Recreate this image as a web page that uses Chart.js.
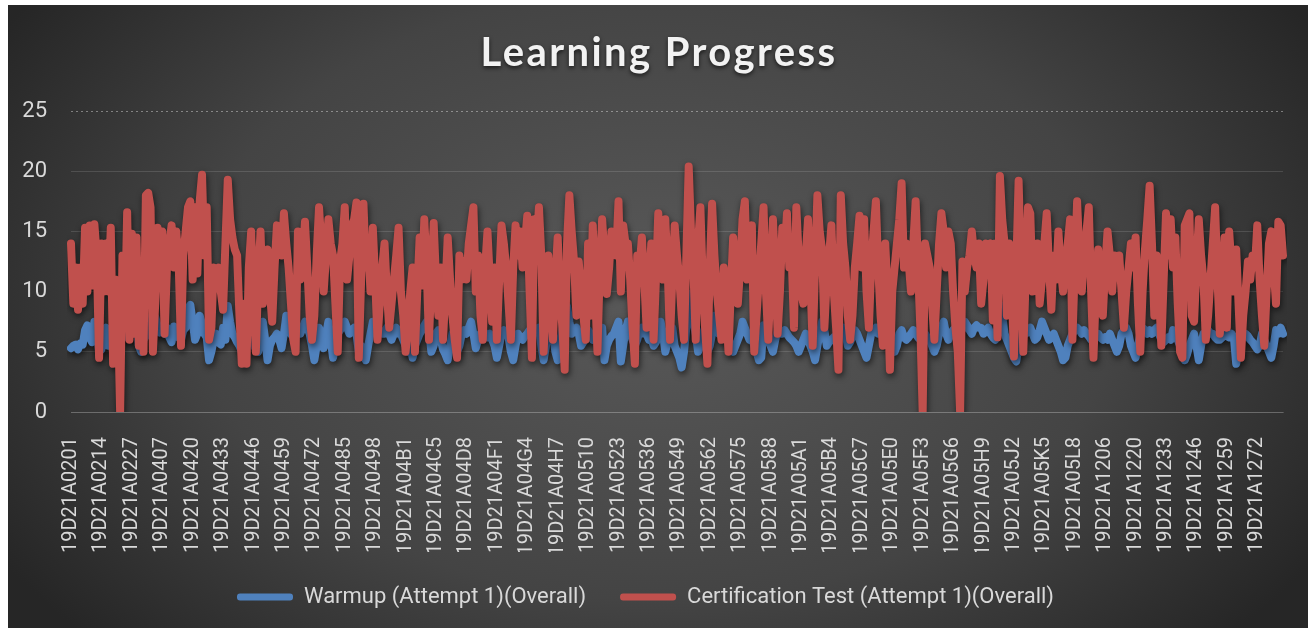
<!DOCTYPE html>
<html>
<head>
<meta charset="utf-8">
<title>Learning Progress</title>
<script src="https://cdn.jsdelivr.net/npm/chart.js@4.4.1/dist/chart.umd.min.js"></script>
<style>
  html, body { margin: 0; padding: 0; background: #fff; }
  #wrap { position: absolute; left: 8px; top: 5px; width: 1300px; height: 623px; }
</style>
</head>
<body>
<div id="wrap"><canvas id="progress"></canvas></div>
<script>
// ── TEXT ───────────────────────────────────────────────────────
const CHART_TITLE = 'Learning Progress';
const SERIES_NAMES = ['Warmup (Attempt 1)(Overall)', 'Certification Test (Attempt 1)(Overall)'];

// ── CATEGORIES: roll numbers, one per student ──────────────────
const ROLL_PREFIX = '19D21A';
// [branch, first code, last code, codes not present]
const rollBlocks = [
  ['02', '01', '33', []],
  ['04', '01', 'I0', ['B5']],
  ['05', '01', 'M5', []],
  ['12', '01', '83', ['12']]
];
const X_TICK_EVERY = 13;          // every 13th roll number is labelled
const yTicks = [0, 5, 10, 15, 20, 25];

// ── SERIES (one row per labelled tick) ─────────────────────────
const warmupScores = [
  5.3, 5.5, 5.6, 5.2, 5.7, 5.6, 6.8, 7.2, 6.2, 5.8, 7.5, 7.2, 5,
  5.2, 6.5, 7, 5.5, 6, 5, 6.8, 7, 6.2, 6.5, 6.8, 6.2, 6.5,
  7, 6.5, 7.2, 5.5, 5, 6, 6.3, 6.8, 7.8, 6.5, 7.9, 7.2, 6.6,
  6.8, 6.5, 7, 6.2, 5.8, 7.1, 6.5, 6.2, 6, 6.8, 7, 8.6, 8.9,
  7.5, 6, 6.5, 8, 7.3, 6.5, 6.2, 4.3, 5, 6, 6.5, 5.8, 5.6,
  7, 6, 8.8, 7.5, 6.5, 6.2, 5.8, 5.5, 5, 5.5, 6, 6.3, 6,
  5.6, 5.2, 5, 6.5, 7.5, 6, 4.3, 5.5, 6, 6.2, 6.5, 6, 5.3,
  6.5, 8, 7.2, 6.5, 6.2, 6.8, 7, 6.5, 7, 7.5, 7, 6.5, 5.5,
  4.3, 5.5, 7, 6.2, 5.3, 6.5, 7.5, 6, 4.5, 5.5, 6.5, 6.8, 7.2,
  7.5, 7, 6.5, 6.8, 7, 6.5, 5, 5.5, 4.8, 4.3, 5.5, 6.5, 7.5,
  7.2, 6.8, 6.8, 6.5, 6.5, 7, 6.5, 6, 6.5, 7, 6.5, 6.5, 6,
  5.5, 5, 5.5, 4.5, 5.5, 6, 6.5, 6.8, 7.2, 7.5, 7, 5, 5.5,
  6.5, 6.8, 6, 5.2, 4.8, 4.3, 5.5, 6.5, 6, 5, 5.5, 6.5, 6.8,
  6.5, 7, 7.5, 6.5, 5.3, 6, 6.5, 6.8, 6.5, 6.2, 6.5, 6, 5.5,
  4.5, 5.5, 6.5, 6.8, 6.5, 6.2, 5, 4.3, 5.5, 6.5, 6.2, 6, 6.3,
  6.5, 6.8, 6.5, 7, 6.8, 7, 5.5, 4.3, 5.5, 6.5, 6.8, 6.5, 5,
  4.3, 5.5, 7, 8, 8.8, 7.5, 6.5, 6.8, 7, 6.5, 5.5, 5.8, 6.5,
  6.8, 6.5, 6, 6.2, 6.5, 6, 7, 4.3, 5.5, 6, 6.3, 6.5, 7,
  7.5, 4.2, 5.5, 6.8, 7.5, 6.8, 6, 5.5, 6, 6.8, 7, 6.5, 6.5,
  6, 6.2, 5.5, 5.8, 6.5, 7.5, 6.5, 5, 5.8, 6.5, 7, 5.5, 5,
  4.5, 3.7, 5, 7, 9.8, 8, 7.5, 6.5, 5, 5.5, 6.5, 7, 5,
  5.5, 6.5, 8, 7.5, 6.5, 6.8, 7, 6.5, 6, 5.5, 5, 5.5, 6,
  6.5, 7.5, 7, 6.5, 6, 6.2, 5.5, 5, 4.3, 4.5, 7.2, 6.5, 6,
  5.5, 5, 6, 6.8, 6.5, 6.5, 6.8, 6.5, 6.2, 6, 5.8, 5.5, 5,
  5.5, 6, 6.5, 6, 5.5, 5, 4.3, 5.5, 6.5, 7.5, 6.8, 5.5, 5.8,
  6, 6.2, 6, 6.5, 6.8, 7, 6.5, 5.5, 5.8, 6.3, 6.8, 6.5, 6,
  5.5, 5, 4.5, 5.5, 6.5, 6.8, 7, 6.5, 7, 7.5, 7, 6, 5.8,
  5.5, 5, 5.5, 6.5, 6.8, 6.2, 6, 6.2, 6.5, 6.8, 6.5, 6.2, 6,
  6.2, 6.5, 6.2, 6, 5.5, 5, 5.5, 6.5, 7, 7.5, 6.5, 6, 6.5,
  6.8, 7, 6.5, 6.5, 7, 7.5, 7.2, 6.8, 6.5, 7, 7.2, 7, 7,
  6.5, 6.8, 7, 6.5, 6.2, 6, 7, 8.9, 8, 6.5, 6, 5.5, 5,
  4.5, 4.2, 5.5, 7, 6.8, 6.5, 6.8, 7, 6.5, 6, 6.2, 6.8, 7.5,
  7, 6.5, 6, 6.3, 6.5, 6, 5.5, 5, 4.3, 4.5, 5.5, 6, 6.5,
  6.8, 7, 6.8, 6.5, 6.8, 6.5, 6.3, 6, 6.3, 6.5, 6.5, 6.2, 6,
  6.2, 6, 6.5, 6, 5.5, 5, 5.5, 6.5, 6.8, 7, 6.5, 5.5, 5,
  4.5, 5.5, 6.5, 7, 6.8, 6.5, 6.8, 6.5, 6.8, 7, 6.5, 6, 5.8,
  6, 6.2, 6, 6.8, 6.5, 6, 5.5, 5, 4.3, 4.8, 5.5, 6, 6.5,
  5.5, 4.3, 5.5, 6.5, 6.5, 6.8, 6.5, 6.5, 6.2, 6, 6, 6.2, 6.5,
  6.3, 6.2, 6.5, 6.2, 4, 5, 6, 6.2, 6.5, 6.3, 6, 5.8, 5.5,
  5.2, 5.5, 6.5, 6, 5.5, 5, 4.5, 5.5, 6.8, 6.5, 7, 6.5
];

const certScores = [
  14, 9, 12, 8.5, 12, 9, 15.3, 10, 15.5, 10.5, 15.6, 13, 4.5,
  14, 10, 14, 10, 15.3, 4, 11, 9, 0, 13, 7, 16.6, 6,
  14.8, 6.5, 14.5, 5.5, 11, 5, 18, 18.2, 17, 5, 9, 15.3, 13,
  15, 6.5, 12, 14, 15.5, 12, 15, 12.5, 5.5, 13, 15, 17, 17.5,
  11, 17, 11.5, 17.5, 19.7, 13, 17, 6, 7, 12, 11.5, 12, 10,
  8.5, 14, 19.3, 16, 14.5, 13.5, 13, 8, 4, 9, 4, 12, 15,
  10, 5, 11, 15, 9, 12, 13.5, 10, 7.5, 12, 15.5, 14, 13,
  16.5, 14, 12, 9, 6, 5, 15, 11, 13, 15.8, 12, 8, 6,
  8, 13, 17, 14, 10, 13, 16, 14, 13, 9, 5, 12.5, 14,
  17, 11, 13, 15.5, 16, 17.4, 4.5, 11, 17.3, 12, 14, 10, 15.3,
  11, 6, 9, 12, 14, 10, 7, 9, 11, 13, 15.3, 10, 8,
  5, 7, 10, 12, 5, 10, 14.5, 10.5, 16, 12, 6, 11, 15.7,
  11, 8, 12, 6, 10, 14.5, 11, 8, 6, 4.5, 13, 11, 12.5,
  11, 14, 15.5, 17, 10, 13, 8, 6, 12, 15, 11, 7.5, 12,
  6, 11, 15.5, 14, 12, 9, 6, 12, 15.5, 13, 15, 12, 14,
  16.3, 10, 4.5, 16, 14, 17, 13, 5, 9, 13, 10, 6, 11,
  14.5, 10, 7, 3.5, 14, 18, 15, 12.5, 8, 12.5, 10, 8, 6,
  14, 8, 15.5, 10, 5, 12, 16, 13, 9.8, 12, 15, 13.5, 13,
  17.5, 10, 15.5, 14, 14, 11, 7, 4, 13, 12, 14.5, 11, 7,
  10, 14, 6, 11, 16.5, 13, 11, 16, 12, 6, 11, 15.5, 13,
  11, 8, 6, 13, 20.4, 15, 12, 6, 14, 17, 11, 7, 4,
  12, 17.3, 13, 10, 8, 6, 12, 9, 5, 10, 14.5, 12, 9,
  12, 16, 17.5, 11, 13, 15.5, 5, 8, 11, 14, 17, 10, 6,
  11, 16, 12, 6.5, 10, 15.3, 13, 16.5, 12, 13, 7, 17, 13,
  10, 9, 13, 16, 11, 5.5, 12, 18, 15, 13.5, 7, 11, 13,
  15.5, 10, 7, 3.5, 18, 14, 12, 8, 6, 8, 12, 14, 16.3,
  12, 16, 10, 7, 12, 15, 17.5, 12, 8, 5.5, 14, 10, 3.5,
  10, 12, 14, 16, 19, 12, 14, 12.5, 10, 14, 17.5, 12, 7,
  0, 14, 13, 12, 9, 6, 10, 14, 16.5, 15, 12, 15, 14,
  10, 7, 5, 0, 12.5, 10, 12, 13, 15, 13, 12, 14, 9,
  11, 14, 13.5, 14, 7.6, 14, 6.2, 19.6, 16, 14, 8, 14, 11,
  4.6, 12, 19.2, 12, 5, 11, 17, 16.5, 10, 12, 14, 9, 11,
  14, 16.5, 12, 8.5, 13, 11, 15, 12, 10, 12, 14, 16, 6,
  12, 17.5, 13, 10, 13, 15, 17, 10, 4.5, 10, 13.5, 9, 8,
  12, 15, 13, 10, 13, 12, 13, 10, 7, 10, 12, 14, 12,
  14.5, 9, 5, 10, 13.5, 16, 18.8, 14, 8, 13, 10, 5.5, 11,
  16.5, 13, 16, 12, 14.5, 9, 5, 4.5, 15.5, 16, 16.5, 8, 7.5,
  12, 16, 13, 11, 6, 8, 11, 14, 17, 11, 6.5, 10, 14.5,
  7, 15, 12, 10, 13.5, 9, 4.5, 8, 10, 12.5, 11, 13, 12,
  15.5, 11, 8, 5.5, 10, 14, 15, 12, 9, 15.8, 15.5, 13
];

// ── STYLE ──────────────────────────────────────────────────────
const BLUE = '#4f81bd';
const RED = '#c0504d';
const TEXT = '#d9d9d9';
const GRID = 'rgba(255,255,255,0.13)';
const GRID_TOP = 'rgba(255,255,255,0.38)';

// ── BUILD ROLL NUMBERS ─────────────────────────────────────────
const LETTERS = 'ABCDEFGHIJKLMNOPQRSTUVWXYZ';
const codeToNum = c => /\d/.test(c[0]) ? +c : 100 + LETTERS.indexOf(c[0]) * 10 + +c[1];
const numToCode = n => n < 100 ? String(n).padStart(2, '0')
                               : LETTERS[Math.floor((n - 100) / 10)] + ((n - 100) % 10);
const rollNumbers = [];
rollBlocks.forEach(([branch, first, last, missing]) => {
  for (let n = codeToNum(first); n <= codeToNum(last); n++) {
    const code = numToCode(n);
    if (!missing.includes(code)) rollNumbers.push(ROLL_PREFIX + branch + code);
  }
});

// ── PLUGINS ────────────────────────────────────────────────────
const backdrop = {
  id: 'backdrop',
  beforeDraw(chart) {
    const { ctx, width, height } = chart;
    const cx = width / 2, cy = 290, sy = 0.66;
    ctx.save();
    ctx.translate(cx, cy);
    ctx.scale(1, sy);
    const g = ctx.createRadialGradient(0, 0, 0, 0, 0, 770);
    g.addColorStop(0, '#595959');
    g.addColorStop(0.6, '#444444');
    g.addColorStop(1, '#262626');
    ctx.fillStyle = g;
    ctx.fillRect(-cx, -cy / sy, width, height / sy);
    ctx.restore();
  },
  afterDraw(chart) {
    // chart title with a soft drop shadow
    const ctx = chart.ctx;
    ctx.save();
    ctx.font = 'bold 40px Lato';
    ctx.letterSpacing = '2.4px';
    ctx.textAlign = 'center';
    ctx.textBaseline = 'alphabetic';
    ctx.shadowColor = 'rgba(0,0,0,0.65)';
    ctx.shadowBlur = 4;
    ctx.shadowOffsetY = 2;
    ctx.fillStyle = '#f2f2f2';
    ctx.fillText(CHART_TITLE, chart.width / 2 + 1, 61);
    ctx.restore();
  }
};

const lineShadow = {
  id: 'lineShadow',
  beforeDatasetsDraw(chart) {
    const ctx = chart.ctx;
    ctx.save();
    ctx.shadowColor = 'rgba(0,0,0,0.6)';
    ctx.shadowBlur = 6;
    ctx.shadowOffsetX = 1;
    ctx.shadowOffsetY = 3;
  },
  afterDatasetsDraw(chart) { chart.ctx.restore(); }
};

// ── CHART ──────────────────────────────────────────────────────
const lineStyle = color => ({
  borderColor: color,
  backgroundColor: color,
  borderWidth: 8,
  pointRadius: 0,
  borderJoinStyle: 'round',
  borderCapStyle: 'round',
  tension: 0
});

new Chart(document.getElementById('progress'), {
  type: 'line',
  data: {
    labels: rollNumbers,
    datasets: [
      { label: SERIES_NAMES[0], data: warmupScores, order: 1, ...lineStyle(BLUE) },
      { label: SERIES_NAMES[1], data: certScores, order: 0, ...lineStyle(RED) }
    ]
  },
  options: {
    responsive: true,
    maintainAspectRatio: false,
    animation: false,
    layout: { padding: { top: 106, right: 25, bottom: 10, left: 0 } },
    plugins: {
      title: { display: false },
      tooltip: { enabled: false },
      legend: {
        position: 'bottom',
        labels: {
          color: TEXT,
          font: { family: 'Roboto', size: 22 },
          boxWidth: 56,
          boxHeight: 7,
          padding: 34,
          useBorderRadius: true,
          borderRadius: 3,
          sort: (a, b) => a.datasetIndex - b.datasetIndex,
          generateLabels: chart =>
            Chart.defaults.plugins.legend.labels.generateLabels(chart)
              .map(item => Object.assign(item, { lineWidth: 0 }))
        }
      }
    },
    scales: {
      x: {
        grid: { display: false },
        border: { display: true, color: 'rgba(255,255,255,0.16)', width: 1 },
        ticks: {
          autoSkip: false,
          maxRotation: 90,
          minRotation: 90,
          padding: 17,
          color: TEXT,
          font: { family: 'Roboto', size: 20 },
          callback(value, index) {
            return index % X_TICK_EVERY === 0 ? this.getLabelForValue(value) : null;
          }
        },
        afterFit: s => { s.height = 140; }
      },
      y: {
        min: yTicks[0],
        max: yTicks[yTicks.length - 1],
        afterBuildTicks: s => { s.ticks = yTicks.map(v => ({ value: v })); },
        grid: {
          drawTicks: false,
          color: c => c.tick && c.tick.value === 25 ? GRID_TOP : GRID
        },
        border: {
          display: false,
          dash: c => c.tick && c.tick.value === 25 ? [2, 3] : []
        },
        ticks: { padding: 24, color: TEXT, font: { family: 'Roboto', size: 22 } },
        afterFit: s => { s.width = 63; }
      }
    }
  },
  plugins: [backdrop, lineShadow]
});
</script>
</body>
</html>
